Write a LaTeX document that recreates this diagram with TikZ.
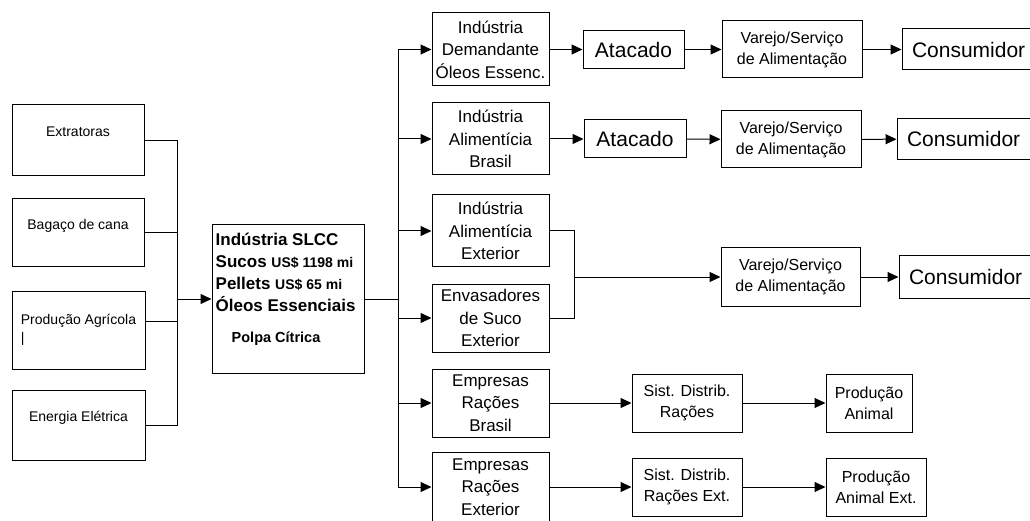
\documentclass[tikz,border=0pt]{standalone}
\usepackage{fontspec}
\setmainfont{Liberation Sans}
\usetikzlibrary{arrows.meta}

\tikzset{
  caixa/.style={draw, line width=1pt, inner sep=1pt, align=center,
                font=\fontsize{17}{22.5}\selectfont},
  pequena/.style={caixa, font=\fontsize{14}{18}\selectfont},
  media/.style={caixa, font=\fontsize{16}{21}\selectfont},
  grande/.style={caixa, font=\fontsize{21}{24}\selectfont},
  consumo/.style={grande, text width=138pt, align=left, inner xsep=10pt},
  seta/.style={-{Triangle[length=11pt,width=10pt]}, line width=1pt},
  linha/.style={line width=1pt}
}

\begin{document}
\begin{tikzpicture}[x=1pt, y=-1pt]

            % frame of the picture
            \path[use as bounding box, clip] (0,0) rectangle (1030,521);

            % inputs on the left
            \node[pequena, minimum width=132pt, minimum height=71pt] (ext) at (78,140.5) {Extratoras\\ \mbox{}};
            \node[pequena, minimum width=132pt, minimum height=68pt] (bag) at (78,233) {Bagaço de cana\\ \mbox{}};
            \node[pequena, align=left, minimum width=133pt, minimum height=78pt] (agr) at (78.5,330) {Produção Agrícola\\ |};
            \node[pequena, minimum width=133pt, minimum height=70pt] (ene) at (78.5,425) {Energia Elétrica\\ \mbox{}};

            % the industry
            \node[caixa, minimum width=152pt, minimum height=148pt] (slcc) at (288,299) {};
            \node[anchor=north west, inner sep=0pt, align=left,
                  font=\fontsize{17}{22}\selectfont\bfseries]
                  (slcctxt) at ([xshift=4pt,yshift=-8pt]slcc.north west)
                  {Indústria SLCC\\
                   Sucos {\fontsize{14}{22}\selectfont US\$ 1198 mi}\\
                   Pellets {\fontsize{14}{22}\selectfont US\$ 65 mi}\\
                   Óleos Essenciais\\[9pt]
                   \hspace*{16pt}{\fontsize{14.5}{22}\selectfont Polpa Cítrica}};

            % second column
            \node[caixa, minimum width=117pt, minimum height=73pt] (dem) at (490.5,49.5) {Indústria\\ Demandante\\ Óleos Essenc.};
            \node[caixa, minimum width=117pt, minimum height=72pt] (iab) at (490.5,139) {Indústria\\ Alimentícia\\ Brasil};
            \node[caixa, minimum width=117pt, minimum height=72pt] (iae) at (490.5,231) {Indústria\\ Alimentícia\\ Exterior};
            \node[caixa, minimum width=117pt, minimum height=68pt] (env) at (490.5,318) {Envasadores\\ de Suco\\ Exterior};
            \node[caixa, minimum width=117pt, minimum height=68pt] (erb) at (490.5,403) {Empresas\\ Rações\\ Brasil};
            \node[caixa, minimum width=117pt, minimum height=70pt] (ere) at (490.5,487) {Empresas\\ Rações\\ Exterior};

            % wholesale
            \node[grande, minimum width=101pt, minimum height=38pt] (ata1) at (633.5,49.5) {Atacado};
            \node[grande, minimum width=102pt, minimum height=38pt] (ata2) at (635,139) {Atacado};

            % retail
            \node[media, minimum width=140pt, minimum height=57pt] (var1) at (792,49.5) {Varejo/Serviço\\ de Alimentação};
            \node[media, minimum width=140pt, minimum height=57pt] (var2) at (791,139.5) {Varejo/Serviço\\ de Alimentação};
            \node[media, minimum width=139pt, minimum height=58pt] (var3) at (790.5,277) {Varejo/Serviço\\ de Alimentação};

            % consumers (cut at the right edge)
            \node[consumo, minimum height=41pt] (con1) at (981,49.5) {Consumidor};
            \node[consumo, minimum height=41pt] (con2) at (976,139) {Consumidor};
            \node[consumo, minimum height=42pt] (con3) at (978,277) {Consumidor};

            % feed chain
            \node[media, minimum width=110pt, minimum height=58pt] (sis1) at (687,403) {Sist. Distrib.\\ Rações};
            \node[media, minimum width=110pt, minimum height=58pt] (sis2) at (687,487) {Sist. Distrib.\\ Rações Ext.};
            \node[media, minimum width=86pt, minimum height=58pt] (ani1) at (869,403) {Produção\\ Animal};
            \node[media, minimum width=100pt, minimum height=58pt] (ani2) at (876,487) {Produção\\ Animal Ext.};

            % junction points
            \coordinate (barraE) at (177,299);
            \coordinate (barraD) at (398,299);
            \coordinate (juncao) at (574,277);

            % inputs into the industry
            \draw[linha] (ext.east) -| (barraE);
            \draw[linha] (bag.east) -| (barraE);
            \draw[linha] ([yshift=9pt]agr.east) -| (barraE);
            \draw[linha] (ene.east) -| (barraE);
            \draw[seta] (barraE) -- (slcc.west);

            % industry out to the second column
            \draw[linha] (slcc.east) -- (barraD);
            \foreach \b in {dem,iab,iae,env,erb,ere}
                \draw[seta] (barraD) |- (\b.west);

            % first two chains
            \draw[seta] (dem) -- (ata1);
            \draw[seta] (ata1) -- (var1);
            \draw[seta] (var1) -- (con1);
            \draw[seta] (iab) -- (ata2);
            \draw[seta] (ata2) -- (var2);
            \draw[seta] (var2) -- (con2);

            % exterior chain
            \draw[linha] (iae.east) -| (juncao);
            \draw[linha] (env.east) -| (juncao);
            \draw[seta] (juncao) -- (var3.west);
            \draw[seta] (var3) -- (con3);

            % feed chains
            \draw[seta] (erb) -- (sis1);
            \draw[seta] (sis1) -- (ani1);
            \draw[seta] (ere) -- (sis2);
            \draw[seta] (sis2) -- (ani2);
\end{tikzpicture}
\end{document}
